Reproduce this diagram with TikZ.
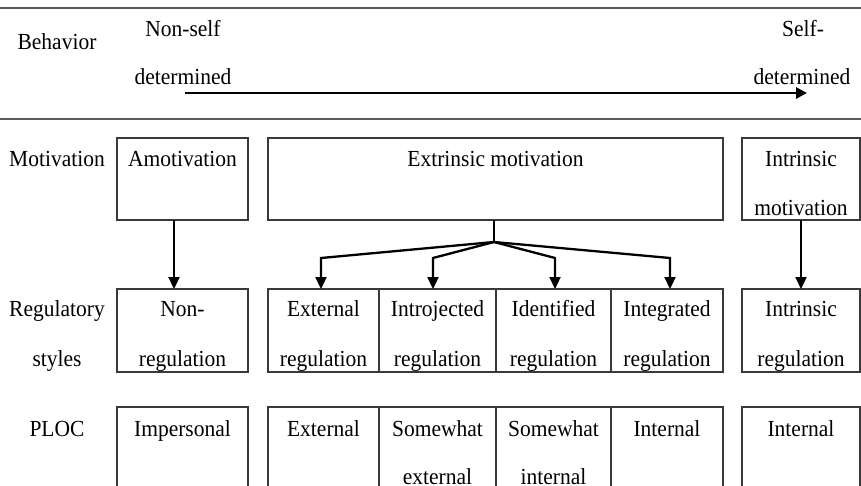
\documentclass[tikz,border=0pt]{standalone}
\usepackage{fontspec}
\setmainfont{Liberation Serif}[FakeStretch=0.935]
\usetikzlibrary{arrows.meta}
\definecolor{boxgray}{HTML}{3A3A3A}
\definecolor{rulegray}{HTML}{5A5A5A}
\begin{document}
\begin{tikzpicture}[x=1pt,y=-1pt,
  box/.style={draw=boxgray, line width=1.7pt, inner sep=0pt, outer sep=0pt, anchor=north west},
  r1/.style={box, minimum height=82pt},
  r2/.style={box, minimum height=83pt},
  r3/.style={box, minimum height=110pt},
  txt/.style={font=\fontsize{23}{23}\selectfont, inner sep=0pt, anchor=base},
  rulestyle/.style={draw=rulegray, line width=2pt},
  conn/.style={line width=2.3pt, -{Triangle[width=11pt,length=12pt]}},
  mainarrow/.style={line width=2.8pt, -{Triangle[width=11pt,length=11pt]}},
]
\useasboundingbox (0,0) rectangle (861,486);
\clip (0,0) rectangle (861,486);

% horizontal rules
\coordinate (t0) at (0,8);   \coordinate (t1) at (861,8);
\coordinate (u0) at (0,119); \coordinate (u1) at (861,119);
\draw[rulestyle] (t0) -- (t1);
\draw[rulestyle] (u0) -- (u1);

% header
\node[txt] (beh) at (57,50) {Behavior};
\node[txt] (ns1) at (183,37) {Non-self};
\node[txt] (ns2) at (183,85) {determined};
\node[txt] (sd1) at (803,37) {Self-};
\node[txt] (sd2) at (802,85) {determined};
\coordinate (a0) at (185,93);
\coordinate (a1) at (807,93);
\draw[mainarrow] (a0) -- (a1);

% row labels
\node[txt] (lmot) at (57,167) {Motivation};
\node[txt] (lreg1) at (57,316) {Regulatory};
\node[txt] (lreg2) at (57,366) {styles};
\node[txt] (lploc) at (57,436) {PLOC};

% row 1
\node[r1, minimum width=131pt] (amot) at (117,138) {};
\node[r1, minimum width=455pt] (extr) at (268,138) {};
\node[r1, minimum width=118pt] (intr) at (742,138) {};
\node[txt] (tamot) at (182.5,167) {Amotivation};
\node[txt] (textr) at (495.5,167) {Extrinsic motivation};
\node[txt] (tintr1) at (801,167) {Intrinsic};
\node[txt] (tintr2) at (801,215) {motivation};

% row 2
\node[r2, minimum width=131pt] (nonreg) at (117,289) {};
\node[r2, minimum width=111pt] (extreg) at (268,289) {};
\node[r2, minimum width=117pt] (introreg) at (379,289) {};
\node[r2, minimum width=115pt] (identreg) at (496,289) {};
\node[r2, minimum width=112pt] (integreg) at (611,289) {};
\node[r2, minimum width=118pt] (intrreg) at (742,289) {};
\node[txt] (n1) at (182.5,316) {Non-};
\node[txt] (n2) at (182.5,366) {regulation};
\node[txt] (e1) at (323.5,316) {External};
\node[txt] (e2) at (323.5,366) {regulation};
\node[txt] (i1) at (437.5,316) {Introjected};
\node[txt] (i2) at (437.5,366) {regulation};
\node[txt] (d1) at (553.5,316) {Identified};
\node[txt] (d2) at (553.5,366) {regulation};
\node[txt] (g1) at (667,316) {Integrated};
\node[txt] (g2) at (667,366) {regulation};
\node[txt] (r1a) at (801,316) {Intrinsic};
\node[txt] (r1b) at (801,366) {regulation};

% row 3
\node[r3, minimum width=131pt] (pimp) at (117,407) {};
\node[r3, minimum width=111pt] (pext) at (268,407) {};
\node[r3, minimum width=117pt] (pswe) at (379,407) {};
\node[r3, minimum width=115pt] (pswi) at (496,407) {};
\node[r3, minimum width=112pt] (pint) at (611,407) {};
\node[r3, minimum width=118pt] (pintr) at (742,407) {};
\node[txt] (p1) at (182.5,436) {Impersonal};
\node[txt] (p2) at (323.5,436) {External};
\node[txt] (p3a) at (437.5,436) {Somewhat};
\node[txt] (p3b) at (437.5,484) {external};
\node[txt] (p4a) at (553.5,436) {Somewhat};
\node[txt] (p4b) at (553.5,484) {internal};
\node[txt] (p5) at (667,436) {Internal};
\node[txt] (p6) at (801,436) {Internal};

% connectors
\draw[conn] ([xshift=-8.5pt]amot.south) -- ([xshift=-8.5pt]nonreg.north);
\draw[conn] (intr.south) -- (intrreg.north);
\coordinate (br) at (494,242);
\coordinate (elb) at (0,258);
\draw[line width=2.3pt] (extr.south -| br) -- (br);
\draw[conn] (br) -- ([xshift=-2.5pt]extreg.north |- elb) -- ([xshift=-2.5pt]extreg.north);
\draw[conn] (br) -- ([xshift=-4.5pt]introreg.north |- elb) -- ([xshift=-4.5pt]introreg.north);
\draw[conn] (br) -- ([xshift=1.5pt]identreg.north |- elb) -- ([xshift=1.5pt]identreg.north);
\draw[conn] (br) -- ([xshift=3pt]integreg.north |- elb) -- ([xshift=3pt]integreg.north);
\end{tikzpicture}
\end{document}
